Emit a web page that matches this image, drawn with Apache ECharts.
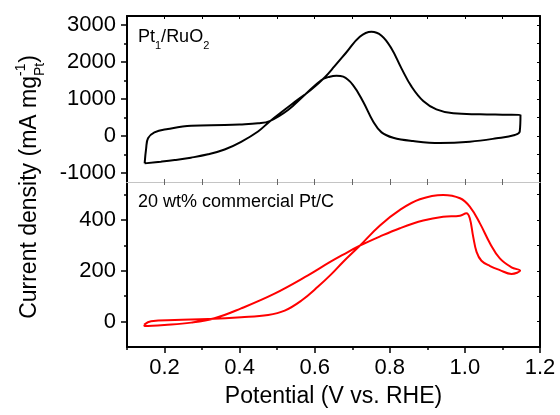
<!DOCTYPE html>
<html>
<head>
<meta charset="utf-8">
<script src="https://cdn.jsdelivr.net/npm/echarts@6/dist/echarts.min.js"></script>
<style>
html,body{margin:0;padding:0;background:#fff;}
#chart{width:560px;height:415px;}
</style>
</head>
<body>
<div id="chart"></div>
<script>
// ---------- data ----------
// Pt1/RuO2 (top panel), forward sweep (V, mA mg-1)
const ptRuFwdV = [0.147, 0.19, 0.227, 0.27, 0.316, 0.36, 0.404, 0.449, 0.48, 0.538, 0.591, 0.627, 0.653, 0.684, 0.72, 0.751, 0.778, 0.804, 0.831, 0.858, 0.889, 0.924, 0.969, 1.04, 1.10, 1.148];
const ptRuFwdJ = [-745, -700, -655, -590, -500, -370, -160, 120, 390, 850, 1260, 1590, 1890, 2260, 2690, 2825, 2717, 2374, 1831, 1334, 946, 720, 612, 584, 575, 570];
// Pt1/RuO2 reverse sweep
const ptRuRevV = [1.148, 1.146, 1.133, 1.084, 1.013, 0.933, 0.862, 0.809, 0.778, 0.756, 0.729, 0.702, 0.676, 0.658, 0.64, 0.618, 0.573, 0.529, 0.48, 0.449, 0.40, 0.36, 0.271, 0.209, 0.173, 0.156, 0.151, 0.147];
const ptRuRevJ = [570, 113, 24, -66, -157, -193, -139, -49, 96, 385, 927, 1379, 1605, 1630, 1605, 1515, 1108, 702, 400, 341, 310, 295, 276, 187, 97, -66, -337, -745];
// 20 wt% Pt/C (bottom panel), forward sweep
const ptcFwdV = [0.146, 0.164, 0.227, 0.316, 0.404, 0.476, 0.52, 0.564, 0.609, 0.645, 0.676, 0.72, 0.773, 0.827, 0.88, 0.942, 0.987, 1.013, 1.04, 1.067, 1.093, 1.124, 1.147];
const ptcFwdJ = [-12, 1, 6, 10, 17, 26, 43, 82, 138, 188, 236, 299, 378, 440, 482, 499, 486, 453, 387, 308, 249, 214, 201];
// 20 wt% Pt/C reverse sweep
const ptcRevV = [1.124, 1.093, 1.067, 1.044, 1.031, 1.022, 1.013, 1.004, 0.987, 0.942, 0.889, 0.827, 0.773, 0.72, 0.676, 0.64, 0.582, 0.493, 0.404, 0.333, 0.271, 0.2, 0.147, 0.146];
const ptcRevJ = [188, 203, 219, 240, 275, 335, 407, 427, 417, 413, 398, 368, 335, 299, 264, 234, 182, 110, 52, 13, -4, -13, -17, -12];

// tick labels
const xTickLabels = [0.2, 0.4, 0.6, 0.8, 1.0, 1.2];
const xMinorTicks = [0.1, 0.3, 0.5, 0.7, 0.9, 1.1];
const xAllTicks = [0.2, 0.3, 0.4, 0.5, 0.6, 0.7, 0.8, 0.9, 1.0, 1.1];
const topYTickLabels = [-1000, 0, 1000, 2000, 3000];
const topYMinor = [-500, 500, 1500, 2500];
const botYTickLabels = [0, 200, 400];
const botYMinor = [100, 300, 500];

const FONT = '"Liberation Sans", Arial, Helvetica, sans-serif';

function pairs(v, j) { return v.map((x, i) => [x, j[i]]); }
const ptRuData = pairs(ptRuFwdV, ptRuFwdJ).concat(pairs(ptRuRevV, ptRuRevJ));
const ptcData = pairs(ptcFwdV, ptcFwdJ).concat(pairs(ptcRevV, ptcRevJ));

// measure for y-title composition
const mctx = document.createElement('canvas').getContext('2d');
mctx.font = '23px ' + FONT;
const wMain = mctx.measureText('Current density (mA mg').width;
const wParen = mctx.measureText(')').width;
mctx.font = '14px ' + FONT;
const wSub = mctx.measureText('Pt').width;
const titleTotal = wMain + wSub + wParen;
const titleCX = 30, titleCY = 187;
const titleStartY = titleCY + titleTotal / 2;

const blackLine = { show: true, onZero: false, lineStyle: { color: '#000', width: 2 } };
const greyLine = { show: true, onZero: false, lineStyle: { color: '#c4c4c4', width: 1 } };
const noLabel = { show: false };
const noSplit = { show: false };
const plain = v => String(v);

const chart = echarts.init(document.getElementById('chart'), null, { renderer: 'canvas' });
chart.setOption({
  animation: false,
  backgroundColor: '#fff',
  grid: [
    { left: 127, top: 16, width: 413, height: 166 },
    { left: 127, top: 182, width: 413, height: 165 }
  ],
  xAxis: [
    { gridIndex: 0, type: 'value', min: 0.1, max: 1.2, position: 'bottom', axisLine: greyLine,
      axisTick: { inside: true, length: 3, customValues: xAllTicks, lineStyle: { color: '#666', width: 1 } },
      axisLabel: noLabel, splitLine: noSplit },
    { gridIndex: 0, type: 'value', min: 0.1, max: 1.2, position: 'top', axisLine: blackLine,
      axisTick: { inside: true, length: 3, customValues: xAllTicks, lineStyle: { color: '#000', width: 1 } },
      axisLabel: noLabel, splitLine: noSplit },
    { gridIndex: 1, type: 'value', min: 0.1, max: 1.2, position: 'top', axisLine: greyLine,
      axisTick: { inside: true, length: 3, customValues: xAllTicks, lineStyle: { color: '#666', width: 1 } },
      axisLabel: noLabel, splitLine: noSplit },
    { gridIndex: 1, type: 'value', min: 0.1, max: 1.2, position: 'bottom', axisLine: blackLine,
      axisTick: { inside: false, length: 6, customValues: xTickLabels, lineStyle: { color: '#000', width: 1.5 } },
      axisLabel: { customValues: xTickLabels, formatter: v => v.toFixed(1), fontSize: 22, fontFamily: FONT, color: '#000', margin: 10 },
      name: 'Potential (V vs. RHE)', nameLocation: 'middle', nameGap: 38,
      nameTextStyle: { fontSize: 23, fontFamily: FONT, color: '#000' },
      splitLine: noSplit },
    { gridIndex: 1, type: 'value', min: 0.1, max: 1.2, position: 'bottom', axisLine: { show: false, onZero: false },
      axisTick: { inside: false, length: 3, customValues: xMinorTicks, lineStyle: { color: '#000', width: 1.5 } },
      axisLabel: noLabel, splitLine: noSplit }
  ],
  yAxis: [
    { gridIndex: 0, type: 'value', min: -1250, max: 3250, position: 'left', axisLine: blackLine,
      axisTick: { inside: false, length: 6, customValues: topYTickLabels, lineStyle: { color: '#000', width: 1.5 } },
      axisLabel: { customValues: topYTickLabels, formatter: plain, fontSize: 22, fontFamily: FONT, color: '#000', margin: 11 },
      splitLine: noSplit },
    { gridIndex: 0, type: 'value', min: -1250, max: 3250, position: 'left', axisLine: { show: false, onZero: false },
      axisTick: { inside: false, length: 3, customValues: topYMinor, lineStyle: { color: '#000', width: 1.5 } },
      axisLabel: noLabel, splitLine: noSplit },
    { gridIndex: 0, type: 'value', min: -1250, max: 3250, position: 'right', axisLine: blackLine,
      axisTick: { inside: true, length: 3, customValues: topYTickLabels.concat(topYMinor), lineStyle: { color: '#000', width: 1 } },
      axisLabel: noLabel, splitLine: noSplit },
    { gridIndex: 1, type: 'value', min: -100, max: 550, position: 'left', axisLine: blackLine,
      axisTick: { inside: false, length: 6, customValues: botYTickLabels, lineStyle: { color: '#000', width: 1.5 } },
      axisLabel: { customValues: botYTickLabels, formatter: plain, fontSize: 22, fontFamily: FONT, color: '#000', margin: 11 },
      splitLine: noSplit },
    { gridIndex: 1, type: 'value', min: -100, max: 550, position: 'left', axisLine: { show: false, onZero: false },
      axisTick: { inside: false, length: 3, customValues: botYMinor, lineStyle: { color: '#000', width: 1.5 } },
      axisLabel: noLabel, splitLine: noSplit },
    { gridIndex: 1, type: 'value', min: -100, max: 550, position: 'right', axisLine: blackLine,
      axisTick: { inside: true, length: 3, customValues: botYTickLabels.concat(botYMinor), lineStyle: { color: '#000', width: 1 } },
      axisLabel: noLabel, splitLine: noSplit }
  ],
  series: [
    { name: 'Pt1/RuO2', type: 'line', xAxisIndex: 1, yAxisIndex: 0, data: ptRuData,
      showSymbol: false, smooth: 0.4, lineStyle: { color: '#000', width: 2 }, clip: true },
    { name: '20 wt% commercial Pt/C', type: 'line', xAxisIndex: 3, yAxisIndex: 3, data: ptcData,
      showSymbol: false, smooth: 0.4, lineStyle: { color: '#ff0000', width: 2 }, clip: true }
  ],
  graphic: [
    { type: 'text', x: 138, y: 37, style: {
        text: '{m|Pt}{s|1}{m|/RuO}{s|2}',
        align: 'left', verticalAlign: 'middle',
        rich: {
          m: { fontSize: 18, fontFamily: FONT, fill: '#000', verticalAlign: 'middle' },
          s: { fontSize: 11, fontFamily: FONT, fill: '#000', verticalAlign: 'middle', padding: [18, 0, 0, 0] }
        } } },
    { type: 'text', x: 138, y: 202, style: {
        text: '20 wt% commercial Pt/C', fontSize: 18, fontFamily: FONT, fill: '#000',
        align: 'left', verticalAlign: 'middle' } },
    { type: 'text', x: titleCX, y: titleStartY, rotation: Math.PI / 2, style: {
        text: '{m|Current density (mA mg}{s|Pt}{m|)}',
        align: 'left', verticalAlign: 'middle',
        rich: {
          m: { fontSize: 23, fontFamily: FONT, fill: '#000', verticalAlign: 'middle' },
          s: { fontSize: 14, fontFamily: FONT, fill: '#000', verticalAlign: 'middle', padding: [20, 0, 0, 0] }
        } } },
    { type: 'text', x: titleCX - 9, y: titleStartY - wMain, rotation: Math.PI / 2, style: {
        text: '-1', fontSize: 14, fontFamily: FONT, fill: '#000', align: 'left', verticalAlign: 'middle' } }
  ]
});
</script>
</body>
</html>
